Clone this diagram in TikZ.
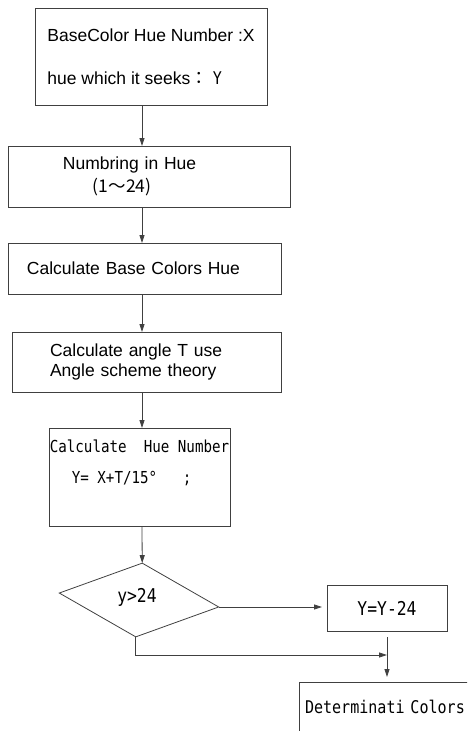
\documentclass[tikz,border=0pt]{standalone}
\usepackage{fontspec}
\setmainfont{Liberation Sans}
\newfontfamily\gothic[FakeStretch=0.86]{DejaVu Sans Mono}
\newfontfamily\cjk{Noto Sans CJK JP}
\usetikzlibrary{arrows.meta,shapes.geometric}
\definecolor{edge}{HTML}{404040}
\tikzset{
  procbox/.style={draw=edge, line width=0.8pt, inner sep=0pt, outer sep=0pt, align=left,
                  font=\fontsize{17.5}{20}\selectfont},
  gothtext/.style={font=\gothic\fontsize{16.5}{31}\selectfont},
  bigtext/.style={font=\gothic\fontsize{19}{22}\selectfont},
  decision/.style={diamond, draw=edge, line width=0.8pt, inner sep=0pt, outer sep=0pt,
                   minimum width=160pt, minimum height=74pt},
  flow/.style={-{Triangle[length=8pt, width=5pt]}, edge, line width=0.8pt},
}
\begin{document}
\begin{tikzpicture}[x=1pt, y=-1pt]
    \useasboundingbox (0,0) rectangle (467,731);
    \clip (0,0) rectangle (467,731);
    \coordinate (spine) at (142,0);

    % main column of steps
    \node[procbox, font=\fontsize{17.5}{43}\selectfont, minimum width=232pt, minimum height=97pt]
      (init) at (151,56.5) {BaseColor Hue Number :X\\hue which it seeks{\cjk ：} {\gothic Y}};
    \node[procbox, font=\fontsize{17.5}{23}\selectfont, minimum width=282pt, minimum height=61pt, text width=266pt]
      (hue) at (149,176.5) {\hspace*{47pt}Numbring in Hue\\\hspace*{77pt}{\cjk (1～24)}};
    \node[procbox, minimum width=273pt, minimum height=51pt, text width=235pt]
      (base) at (144.5,268.5) {Calculate Base Colors Hue};
    \node[procbox, minimum width=269pt, minimum height=60pt, text width=193pt]
      (angle) at (146.5,362) {Calculate angle T use\\Angle scheme theory};
    \node[procbox, gothtext, minimum width=181pt, minimum height=98pt]
      (huenum) at (139.5,477) {Calculate\ \ Hue Number\\\hspace*{22pt}Y=\ X+T/15°\ \ \ ;\\\mbox{}};

    % test and correction
    \node[decision, rotate=-5] (test) at (139,600) {};
    \node[bigtext, inner sep=0pt] (testlbl) at (137,597) {y>24};
    \node[procbox, bigtext, minimum width=120pt, minimum height=46pt] (adjust) at (387,608) {Y=Y-24};
    \node[procbox, font=\gothic\fontsize{17.5}{31}\selectfont, minimum width=200pt, minimum height=80pt, text width=188pt]
      (final) at (399,722) {Determinati Colors\\\mbox{}};
    \coordinate (merge) at (387,655);

    % connectors
    \foreach \a/\b in {init/hue, hue/base, base/angle, angle/huenum}
      \draw[flow] (\a.south -| spine) -- (\b.north -| spine);
    \draw[flow] (huenum.south -| spine) -- (test.north);
    \draw[flow, shorten >=5pt] (test.east) -- (test.east -| adjust.west);
    \draw[flow, shorten <=6pt, shorten >=5pt] (adjust.south) -- (adjust.south |- final.north);
    \draw[flow] (test.south) |- (merge);
  \end{tikzpicture}
\end{document}
